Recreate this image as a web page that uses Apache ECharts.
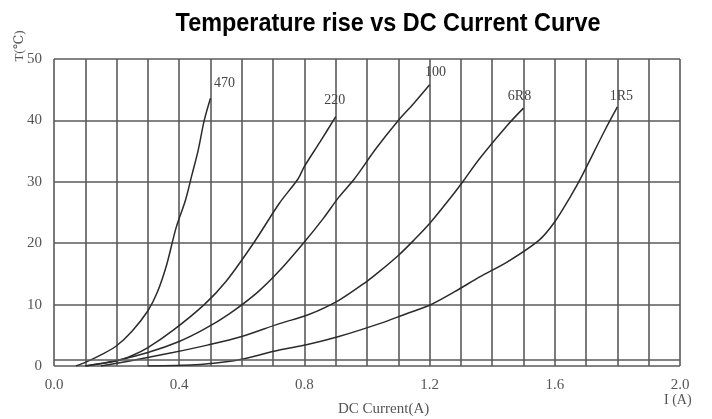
<!DOCTYPE html>
<html>
<head>
<meta charset="utf-8">
<script src="https://cdn.jsdelivr.net/npm/echarts@6/dist/echarts.min.js"></script>
<style>
html,body{margin:0;padding:0;background:#fff;}
#chart{width:712px;height:419px;}
</style>
</head>
<body>
<div id="chart"></div>
<script>
// ---- data ----
const seriesNames = ['470', '220', '100', '6R8', '1R5'];
const curve470 = [[0.07,0],[0.1,0.6],[0.15,1.8],[0.2,3.3],[0.25,5.7],[0.3,9],[0.33,12],[0.36,16.5],[0.39,22.5],[0.42,27],[0.44,31],[0.46,35],[0.48,40],[0.5,43.6]];
const curve220 = [[0.1,0],[0.2,0.8],[0.25,1.7],[0.3,3],[0.38,5.8],[0.48,10],[0.55,13.8],[0.64,20.2],[0.72,26.5],[0.78,30.5],[0.8,32.5],[0.85,36.5],[0.9,40.6]];
const curve100 = [[0.1,0],[0.2,0.9],[0.3,2.2],[0.4,4],[0.48,6],[0.56,8.5],[0.65,12],[0.72,15.5],[0.8,20.2],[0.86,24],[0.91,27.5],[0.96,30.5],[1.03,35.5],[1.1,40],[1.15,42.8],[1.2,45.8]];
const curve6R8 = [[0.15,0],[0.25,0.9],[0.38,2.2],[0.49,3.4],[0.6,4.8],[0.72,6.9],[0.81,8.3],[0.91,10.7],[1.0,13.8],[1.04,15.4],[1.1,18],[1.15,20.5],[1.2,23.2],[1.27,27.6],[1.31,30.3],[1.36,33.8],[1.45,39.3],[1.5,42]];
const curve1R5 = [[0.3,0],[0.45,0.2],[0.55,0.7],[0.6,1.1],[0.64,1.6],[0.72,2.6],[0.81,3.5],[0.91,4.8],[1.04,6.9],[1.13,8.6],[1.2,9.9],[1.28,12.1],[1.36,14.5],[1.45,17],[1.55,20.5],[1.6,23.5],[1.65,27.6],[1.68,30.3],[1.76,38.4],[1.8,42.2]];
const xTickValues = [0.0, 0.4, 0.8, 1.2, 1.6, 2.0];
const xTickLabels = ['0.0', '0.4', '0.8', '1.2', '1.6', '2.0'];
const yTickLabels = ['0', '10', '20', '30', '40', '50'];
const extraGridY = [1];

const curves = [curve470, curve220, curve100, curve6R8, curve1R5];
const labelOffsets = [[14,-15],[-1,-16],[6,-12],[-4,-12],[4,-11]];

const serif = '"Liberation Serif","DejaVu Serif",serif';
const gridColor = '#5a5a5a';

const chart = echarts.init(document.getElementById('chart'), null, {renderer:'canvas'});

const series = curves.map((c, i) => ({
  name: seriesNames[i],
  type: 'line',
  data: c,
  smooth: 0.3,
  showSymbol: false,
  symbol: 'none',
  lineStyle: {color: '#2b2b2b', width: 1.5},
  endLabel: {
    show: true,
    formatter: seriesNames[i],
    fontFamily: serif,
    fontSize: 14,
    color: '#444',
    align: 'center',
    verticalAlign: 'middle',
    distance: 0,
    offset: labelOffsets[i]
  },
  z: 3,
  markLine: i === 0 ? {
    silent: true,
    symbol: 'none',
    label: {show: false},
    lineStyle: {color: gridColor, width: 1.5, type: 'solid'},
    data: extraGridY.map(v => ({yAxis: v}))
  } : undefined
}));

chart.setOption({
  animation: false,
  backgroundColor: '#fff',
  grid: {left: 54, right: 32, top: 59, bottom: 53, containLabel: false},
  xAxis: {
    type: 'value',
    min: 0, max: 2, interval: 0.1,
    axisLine: {show: false},
    axisTick: {show: false},
    splitLine: {show: true, lineStyle: {color: gridColor, width: 1.6}},
    axisLabel: {
      margin: 12,
      fontFamily: serif, fontSize: 15, color: '#555',
      formatter: v => {
        const k = xTickValues.findIndex(t => Math.abs(t - v) < 1e-6);
        return k >= 0 ? xTickLabels[k] : '';
      }
    }
  },
  yAxis: {
    type: 'value',
    min: 0, max: 50, interval: 10,
    axisLine: {show: false},
    axisTick: {show: false},
    splitLine: {show: true, lineStyle: {color: gridColor, width: 1.6}},
    axisLabel: {
      margin: 12,
      fontFamily: serif, fontSize: 15, color: '#555',
      formatter: v => yTickLabels[Math.round(v / 10)]
    }
  },
  graphic: [
    {type: 'text', x: 388, y: 24, scaleX: 0.9, style: {text: 'Temperature rise vs DC Current Curve', font: 'bold 26px "Liberation Sans",Arial,sans-serif', fill: '#000', textAlign: 'center', textVerticalAlign: 'middle'}},
    {type: 'text', left: 338, top: 402, style: {text: 'DC Current(A)', font: '15px ' + serif, fill: '#555', textAlign: 'center'}},
    {type: 'text', left: 664, top: 393, style: {text: 'I (A)', font: '14px ' + serif, fill: '#555'}},
    {type: 'text', x: 20, y: 46, rotation: Math.PI / 2, style: {text: 'T(℃)', font: '13px ' + serif, fill: '#555', textAlign: 'center', textVerticalAlign: 'middle'}}
  ],
  series: series
});
</script>
</body>
</html>
